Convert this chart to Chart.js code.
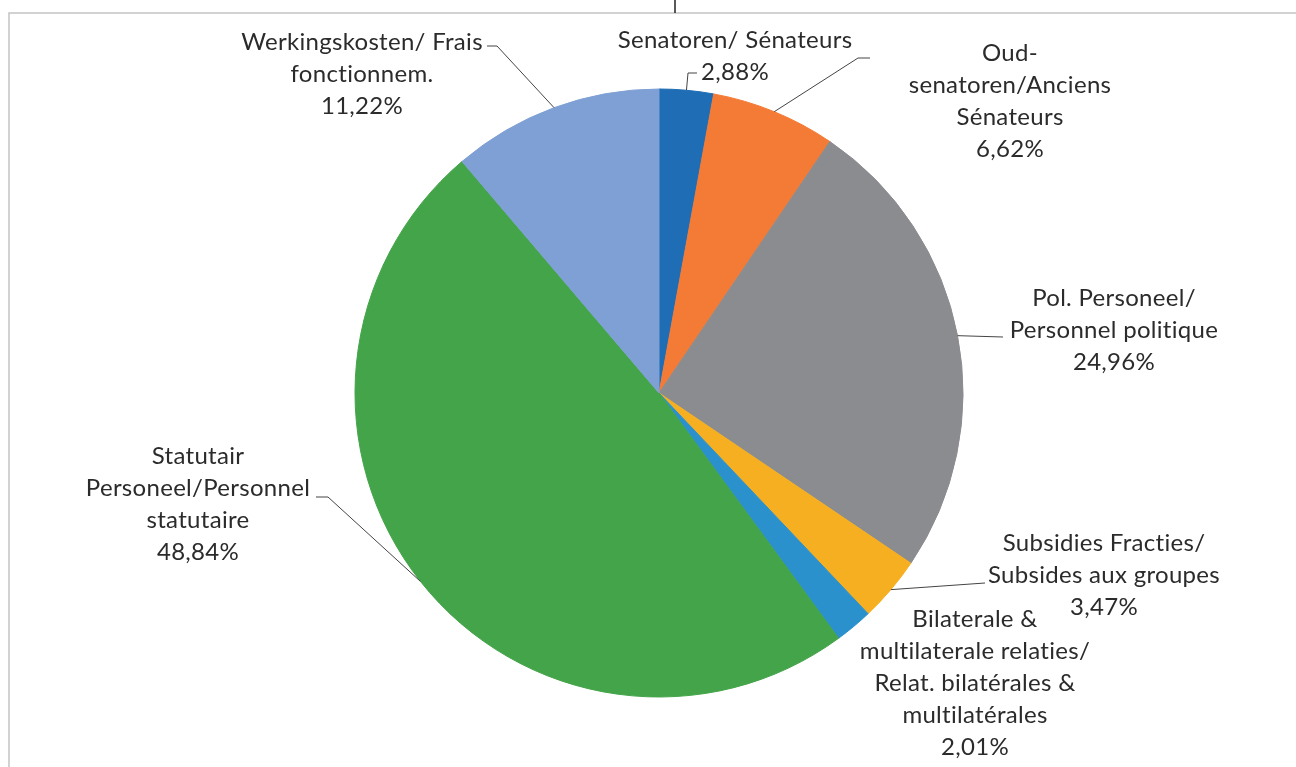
<!DOCTYPE html>
<html>
<head>
<meta charset="utf-8">
<script src="https://cdn.jsdelivr.net/npm/chart.js@4.4.0/dist/chart.umd.min.js"></script>
<style>
html, body { margin: 0; padding: 0; background: #fff; }
#wrap { width: 1296px; height: 767px; position: relative; }
</style>
</head>
<body>
<div id="wrap"><canvas id="myChart"></canvas></div>
<script>
// categories, each split in the lines shown on the picture
var categories = [
    ['Senatoren/ Sénateurs'],
    ['Oud-', 'senatoren/Anciens', 'Sénateurs'],
    ['Pol. Personeel/', 'Personnel politique'],
    ['Subsidies Fracties/', 'Subsides aux groupes'],
    ['Bilaterale &', 'multilaterale relaties/', 'Relat. bilatérales &', 'multilatérales'],
    ['Statutair', 'Personeel/Personnel', 'statutaire'],
    ['Werkingskosten/ Frais', 'fonctionnem.']
];
var shares = [2.88, 6.62, 24.96, 3.47, 2.01, 48.84, 11.22];
var sliceColors = ['#1f6db5', '#f47b36', '#8b8c8f', '#f6af21', '#2a91cd', '#43a449', '#7fa0d4'];

// where each label goes: centre x, first line y, leader bend + end near the text
var labelLayout = [
    { x: 735, y: 40, leader: [[688, 73], [697, 73]] },
    { x: 1010, y: 53, leader: [[858, 58], [870, 58]] },
    { x: 1114, y: 298, leader: [[1003, 337]] },
    { x: 1104, y: 543, leader: [[985, 583]] },
    { x: 975, y: 619, leader: null },
    { x: 198, y: 456, leader: [[328, 497], [316, 497]] },
    { x: 362, y: 42, leader: [[497, 46], [487, 46]] }
];
var lineHeight = 32;

function pct(v) {
    return v.toFixed(2).replace('.', ',') + '%';
}

var frame = {
    id: 'frame',
    beforeDraw: function (chart) {
        var c = chart.ctx;
        c.save();
        c.strokeStyle = '#c3c3c3';
        c.lineWidth = 1.5;
        c.beginPath();
        c.moveTo(9, 767);
        c.lineTo(9, 13);
        c.lineTo(1296, 13);
        c.stroke();
        c.strokeStyle = '#222';
        c.lineWidth = 1.5;
        c.beginPath();
        c.moveTo(675, 0);
        c.lineTo(675, 13);
        c.stroke();
        c.restore();
    }
};

var sliceLabels = {
    id: 'sliceLabels',
    afterDatasetsDraw: function (chart) {
        var c = chart.ctx;
        var arcs = chart.getDatasetMeta(0).data;
        c.save();
        c.font = '24px Lato';
        c.letterSpacing = '0.3px'; // also stops the "ti" ligature
        c.fillStyle = '#2b2b2b';
        c.textAlign = 'center';
        c.textBaseline = 'middle';
        arcs.forEach(function (arc, i) {
            var p = arc.getProps(['x', 'y', 'startAngle', 'endAngle', 'outerRadius'], true);
            var mid = (p.startAngle + p.endAngle) / 2;
            var lay = labelLayout[i];
            if (lay.leader) {
                c.strokeStyle = '#444';
                c.lineWidth = 1;
                c.beginPath();
                c.moveTo(p.x + Math.cos(mid) * p.outerRadius, p.y + Math.sin(mid) * p.outerRadius);
                lay.leader.forEach(function (pt) { c.lineTo(pt[0], pt[1]); });
                c.stroke();
            }
            var lines = categories[i].concat([pct(shares[i])]);
            lines.forEach(function (t, k) {
                c.fillText(t, lay.x, lay.y + k * lineHeight);
            });
        });
        c.restore();
    }
};

var ctx = document.getElementById('myChart').getContext('2d');
var BudgetChart = new Chart(ctx, {
    type: 'pie',
    data: {
        labels: categories.map(function (l) { return l.join(' '); }),
        datasets: [{
            data: shares,
            backgroundColor: sliceColors,
            borderColor: sliceColors,
            borderWidth: 1
        }]
    },
    options: {
        responsive: true,
        maintainAspectRatio: false,
        animation: false,
        radius: 304,
        layout: {
            padding: { left: 22, right: 0, top: 19, bottom: 0 }
        },
        plugins: {
            legend: { display: false },
            tooltip: { enabled: false }
        }
    },
    plugins: [frame, sliceLabels]
});
</script>
</body>
</html>
